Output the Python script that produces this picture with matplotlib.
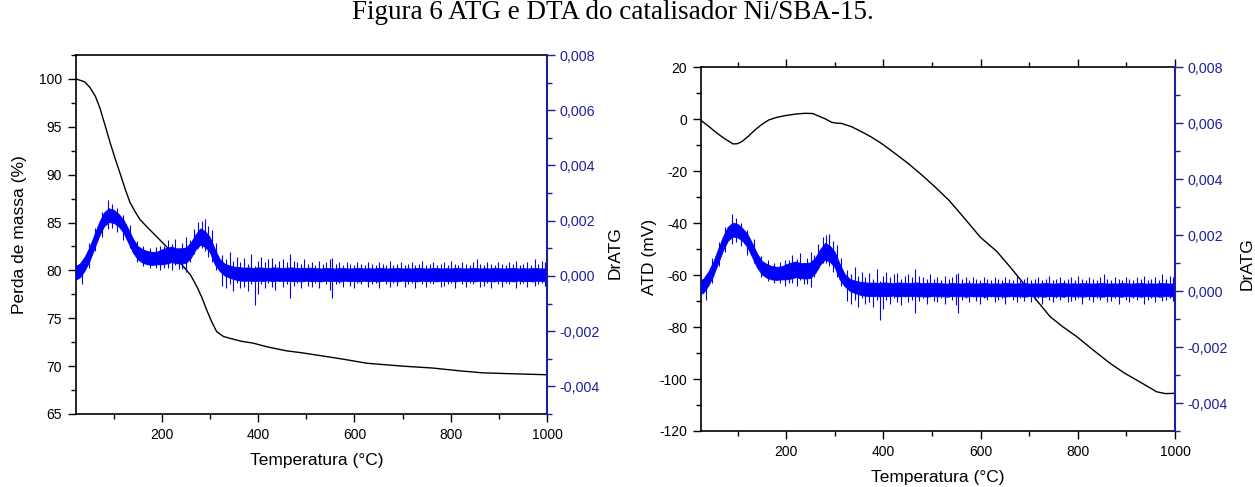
import numpy as np
import matplotlib
matplotlib.use("Agg")
import matplotlib.pyplot as plt
from matplotlib.ticker import MultipleLocator, FuncFormatter

plt.rcParams['font.family'] = ['Liberation Sans', 'DejaVu Sans']
plt.rcParams['axes.unicode_minus'] = False

# ---- TG curve (left panel), mass %
tg_T = [22, 40, 51, 62, 72, 82, 93, 103, 113, 124, 134, 145, 155, 172, 190, 217, 245, 260,
        273, 283, 293, 304, 314, 328, 342, 365, 390, 420, 459, 490, 529, 580, 626, 700,
        763, 820, 867, 930, 1000]
tg_val = [100.0, 99.7, 99.1, 98.2, 96.9, 95.2, 93.3, 91.7, 90.2, 88.5, 87.1, 86.1, 85.3, 84.4,
          83.5, 82.1, 80.4, 79.5, 78.3, 77.2, 75.9, 74.6, 73.6, 73.1, 72.9, 72.6, 72.4, 72.0,
          71.6, 71.4, 71.1, 70.7, 70.3, 70.0, 69.8, 69.5, 69.3, 69.2, 69.1]

# ---- DTA curve (right panel), mV
dta_T = [25, 40, 54, 72, 91, 100, 109, 122, 136, 150, 164, 180, 198, 220, 239, 255, 266, 280,
         294, 304, 314, 335, 355, 375, 396, 420, 451, 480, 506, 535, 564, 600, 633, 660, 688,
         715, 743, 770, 798, 830, 866, 895, 921, 945, 962, 980, 1000]
dta_val = [-0.5, -2.6, -4.8, -7.3, -9.5, -9.4, -8.6, -6.6, -4.1, -2.0, -0.3, 0.7, 1.4, 2.0, 2.3,
           2.2, 1.3, 0.2, -1.2, -1.5, -1.6, -2.9, -4.8, -6.8, -9.3, -12.6, -17.0, -21.6, -26.0,
           -31.2, -37.5, -45.5, -50.8, -56.7, -63.1, -69.6, -76.0, -80.0, -83.7, -88.6, -93.9,
           -97.6, -100.4, -103.0, -104.9, -105.6, -105.5]

# ---- DrATG (same signal in both panels), x 1e-3
# dense core band, read every 10 C
dr_T = list(range(20, 1001, 10))
dr_up = [0.35, 0.45, 0.7, 1.05, 1.5, 1.95, 2.3, 2.45, 2.4, 2.25, 2.05, 1.72, 1.35, 1.08, 0.97,
         0.9, 0.87, 0.88, 0.96, 1.02, 1.06, 1.0, 1.0, 1.03, 1.2, 1.5, 1.72, 1.62, 1.4, 0.98,
         0.62, 0.45, 0.38, 0.34,
         0.32, 0.3, 0.31, 0.29, 0.31, 0.3, 0.28, 0.31, 0.3, 0.29,
         0.3, 0.31, 0.28, 0.3, 0.29, 0.3, 0.28, 0.27, 0.29, 0.28,
         0.27, 0.29, 0.28, 0.27, 0.28, 0.29, 0.27, 0.28, 0.27, 0.29,
         0.28, 0.27, 0.28, 0.29, 0.27, 0.28, 0.27, 0.29, 0.28, 0.27,
         0.28, 0.29, 0.27, 0.28, 0.27, 0.29, 0.28, 0.27, 0.28, 0.29,
         0.27, 0.28, 0.27, 0.29, 0.28, 0.27, 0.28, 0.29, 0.27, 0.28,
         0.27, 0.29, 0.28, 0.27, 0.28]
dr_lo = [-0.15, -0.05, 0.2, 0.55, 1.0, 1.45, 1.8, 1.95, 1.92, 1.8, 1.58, 1.22, 0.85, 0.6, 0.48,
         0.42, 0.4, 0.42, 0.42, 0.45, 0.5, 0.46, 0.45, 0.47, 0.65, 0.95, 1.13, 1.05, 0.85, 0.42,
         0.18, 0.02, -0.06, -0.12,
         -0.16, -0.18, -0.17, -0.19, -0.17, -0.18, -0.16, -0.19, -0.17, -0.18,
         -0.17, -0.19, -0.18, -0.2, -0.17, -0.19, -0.18, -0.2, -0.17, -0.19,
         -0.18, -0.2, -0.17, -0.19, -0.18, -0.2, -0.17, -0.19, -0.18, -0.2,
         -0.17, -0.19, -0.18, -0.2, -0.17, -0.19, -0.18, -0.2, -0.17, -0.19,
         -0.18, -0.2, -0.17, -0.19, -0.18, -0.2, -0.17, -0.19, -0.18, -0.2,
         -0.17, -0.19, -0.18, -0.2, -0.17, -0.19, -0.18, -0.2, -0.17, -0.19,
         -0.18, -0.2, -0.17, -0.19, -0.18]

# noise spikes: temperature, lowest and highest excursion
spk_T = [35, 48, 62, 75, 88, 97, 108, 120, 133, 148, 162, 175, 188, 197,
         205, 212, 222, 228, 236, 243, 251, 258, 266, 276, 283, 289, 297, 304, 312,
         326, 333, 341, 348, 356, 363, 371, 378, 386, 393, 399, 406, 414, 421, 429, 436, 444,
         451, 459, 466, 474, 481, 489, 496, 504, 511, 519, 526, 534, 541, 549, 554, 561, 569,
         576, 584, 591, 599, 606, 614, 621, 629, 636, 644, 651, 659, 666, 674, 681, 689, 696,
         704, 711, 719, 726, 734, 741, 749, 756, 764, 771, 779, 786, 794, 801, 809, 816, 824,
         831, 839, 846, 854, 861, 869, 876, 884, 891, 899, 906, 914, 921, 929, 936, 944, 951,
         959, 966, 974, 981, 989, 996]
spk_lo = [-0.3, 0.3, 0.9, 1.4, 1.7, 1.75, 1.6, 1.3, 1.0, 0.5, 0.35, 0.3, 0.3, 0.2,
          0.3, 0.3, 0.2, 0.4, 0.25, 0.25, 0.15, 0.5, 0.8, 1.0, 1.0, 0.9, 0.7, 0.5, 0.2,
          -0.35, -0.45, -0.3, -0.55, -0.25, -0.45, -0.4, -0.55, -0.3, -1.05,
          -0.65, -0.3, -0.45, -0.25, -0.4, -0.5, -0.2, -0.4, -0.3, -0.8,
          -0.35, -0.25, -0.45, -0.2, -0.35, -0.4, -0.25, -0.45, -0.2, -0.3,
          -0.5, -0.8, -0.3, -0.25, -0.4, -0.2, -0.35, -0.45, -0.25, -0.3,
          -0.2, -0.4, -0.3, -0.25, -0.45, -0.2, -0.3, -0.4, -0.25, -0.35,
          -0.2, -0.4, -0.3, -0.25, -0.45, -0.2, -0.3, -0.4, -0.25, -0.3,
          -0.2, -0.4, -0.35, -0.3, -0.25, -0.45, -0.2, -0.3, -0.4, -0.25,
          -0.3, -0.2, -0.4, -0.35, -0.25, -0.45, -0.2, -0.3, -0.4, -0.25,
          -0.3, -0.2, -0.45, -0.3, -0.25, -0.4, -0.2, -0.35, -0.3, -0.25, -0.35]
spk_hi = [0.55, 1.2, 1.75, 2.3, 2.75, 2.6, 2.45, 2.2, 1.85, 1.25, 1.1, 1.0, 1.05, 1.1,
          1.1, 1.3, 1.15, 1.35, 1.0, 1.2, 1.4, 1.3, 1.7, 1.95, 2.0, 2.05, 1.8, 1.65, 1.2,
          0.75, 0.6, 0.85, 0.55, 0.7, 0.5, 0.65, 0.45, 0.8, 0.35,
          0.55, 0.7, 0.5, 0.6, 0.65, 0.45, 0.55, 0.6, 0.5, 0.8,
          0.55, 0.5, 0.45, 0.6, 0.45, 0.5, 0.4, 0.55, 0.45, 0.5,
          0.6, 0.65, 0.45, 0.5, 0.4, 0.5, 0.45, 0.4, 0.5, 0.45,
          0.4, 0.5, 0.45, 0.4, 0.5, 0.45, 0.4, 0.55, 0.4, 0.45,
          0.5, 0.4, 0.45, 0.5, 0.4, 0.45, 0.55, 0.4, 0.45, 0.5,
          0.4, 0.45, 0.5, 0.4, 0.55, 0.45, 0.4, 0.5, 0.45, 0.4,
          0.5, 0.6, 0.45, 0.4, 0.5, 0.45, 0.4, 0.5, 0.45, 0.4,
          0.5, 0.45, 0.55, 0.4, 0.45, 0.5, 0.4, 0.6, 0.45, 0.55, 0.5]

NAVY = '#1f1f9e'
BLUE = '#0000ff'
LBL = 12.5
TCK = 10


def comma(v, pos):
    return ('%.3f' % v).replace('.', ',')


def style_left(ax):
    ax.tick_params(axis='both', which='major', direction='out', length=6, width=1,
                   labelsize=TCK, pad=4)
    ax.tick_params(axis='both', which='minor', direction='out', length=3.5, width=1)
    for s in ['left', 'bottom', 'top']:
        ax.spines[s].set_linewidth(1.2)


def draw_dratg(axr):
    axr.fill_between(np.array(dr_T), np.array(dr_lo) * 1e-3, np.array(dr_up) * 1e-3,
                     color=BLUE, lw=0.6)
    axr.vlines(spk_T, np.array(spk_lo) * 1e-3, np.array(spk_hi) * 1e-3, color=BLUE, lw=0.8)
    axr.spines['right'].set_color(NAVY)
    axr.spines['right'].set_linewidth(1.5)
    axr.tick_params(axis='y', which='major', direction='out', length=6, width=1,
                    colors=NAVY, labelsize=TCK + 0.3, pad=3)
    axr.tick_params(axis='y', which='minor', direction='out', length=3.5, width=1, colors=NAVY)
    axr.yaxis.set_major_locator(MultipleLocator(0.002))
    axr.yaxis.set_minor_locator(MultipleLocator(0.001))
    axr.yaxis.set_major_formatter(FuncFormatter(comma))
    axr.set_ylim(-0.005, 0.008)
    axr.set_ylabel('DrATG', fontsize=LBL)
    for s in ['left', 'bottom', 'top']:
        axr.spines[s].set_visible(False)


fig = plt.figure(figsize=(12.55, 4.87), dpi=100)
fig.text(0.488, 0.975, 'Figura 6 ATG e DTA do catalisador Ni/SBA-15.', ha='center', va='center',
         fontsize=19.5, family=['Liberation Serif', 'DejaVu Serif'])

# left panel: TG + DrATG
ax1 = fig.add_axes([0.0606, 0.1499, 0.3753, 0.7371])
ax1.plot(tg_T, tg_val, color='black', lw=1)
ax1.set_xlim(22, 1000)
ax1.set_ylim(65, 102.5)
ax1.xaxis.set_major_locator(MultipleLocator(200))
ax1.xaxis.set_minor_locator(MultipleLocator(100))
ax1.yaxis.set_major_locator(MultipleLocator(5))
ax1.yaxis.set_minor_locator(MultipleLocator(2.5))
style_left(ax1)
ax1.spines['right'].set_visible(False)
ax1.set_ylabel('Perda de massa (%)', fontsize=LBL)
ax1.yaxis.set_label_coords(-0.104, 0.5)
ax1.set_xlabel('Temperatura (°C)', fontsize=LBL)
ax1.xaxis.set_label_coords(0.51, -0.108)

ax1r = ax1.twinx()
draw_dratg(ax1r)
ax1r.yaxis.set_label_coords(1.129, 0.45)

# right panel: DTA + DrATG
ax2 = fig.add_axes([0.5586, 0.115, 0.3777, 0.7468])
ax2.plot(dta_T, dta_val, color='black', lw=1)
ax2.set_xlim(25, 1000)
ax2.set_ylim(-120, 20)
ax2.xaxis.set_major_locator(MultipleLocator(200))
ax2.xaxis.set_minor_locator(MultipleLocator(100))
ax2.yaxis.set_major_locator(MultipleLocator(20))
ax2.yaxis.set_minor_locator(MultipleLocator(10))
style_left(ax2)
ax2.tick_params(axis='x', which='both', top=True, labeltop=False)
ax2.spines['right'].set_visible(False)
ax2.set_ylabel('ATD (mV)', fontsize=LBL)
ax2.yaxis.set_label_coords(-0.093, 0.478)
ax2.set_xlabel('Temperatura (°C)', fontsize=LBL)
ax2.xaxis.set_label_coords(0.5, -0.107)

ax2r = ax2.twinx()
draw_dratg(ax2r)
ax2r.yaxis.set_label_coords(1.137, 0.46)

fig.savefig('out.png', dpi=100)
